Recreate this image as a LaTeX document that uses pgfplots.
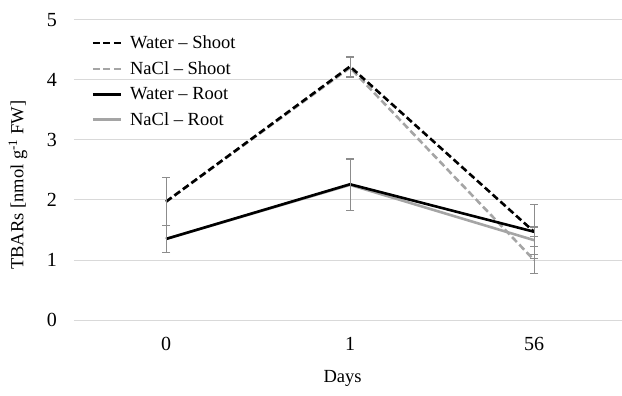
\documentclass[border=0pt]{standalone}
\usepackage{pgfplots}
\pgfplotsset{compat=1.18}
\usepackage{fontspec}
\setmainfont{Liberation Serif}
\definecolor{ngray}{RGB}{165,165,165}
\definecolor{ebar}{RGB}{140,140,140}
\definecolor{gridc}{RGB}{217,217,217}
\begin{document}
\begin{tikzpicture}
\begin{axis}[name=ax, scale only axis, width=548pt, height=300.5pt,
  xmin=-0.5, xmax=2.478, ymin=0, ymax=5,
  ytick={0,1,2,3,4,5}, xtick={0,1,2}, xticklabels={0,1,56},
  axis line style={draw=none}, major tick length=0pt,
  ymajorgrids, grid style={gridc, line width=0.9pt},
  tick label style={font=\fontsize{20}{24}\selectfont, inner sep=0pt},
  /pgf/number format/assume math mode=true,
  xticklabel shift=17pt, yticklabel shift=17pt,
  xlabel={Days}, ylabel={TBARs [nmol g\textsuperscript{-1} FW]},
  label style={font=\fontsize{18.5}{22}\selectfont},
  xlabel style={at={(axis description cs:0.49,0)}, yshift=-58pt, anchor=center},
  ylabel style={at={(axis description cs:-0.1022,0.449)}, anchor=center},
  legend style={at={(0.028,0.96)}, anchor=north west, draw=none, fill=none,
    font=\fontsize{18.5}{22}\selectfont, row sep=7.5pt, inner sep=2pt},
  legend cell align=left,
  legend image code/.code={\draw[#1] (0pt,0pt) -- (28pt,0pt); \path (34pt,0pt);},
  error bars/y dir=both, error bars/y explicit,
  error bars/error bar style={ebar, line width=0.8pt, solid},
  error bars/error mark options={rotate=90, mark size=4pt, ebar, line width=0.8pt, solid},
]
\addlegendimage{black, line width=2.6pt, dash pattern=on 7pt off 3.5pt}
\addlegendentry{Water -- Shoot}
\addlegendimage{ngray, line width=2.6pt, dash pattern=on 7pt off 3.5pt}
\addlegendentry{NaCl -- Shoot}
\addlegendimage{black, line width=2.6pt}
\addlegendentry{Water -- Root}
\addlegendimage{ngray, line width=2.6pt}
\addlegendentry{NaCl -- Root}

\addplot[forget plot, ngray, line width=2.6pt, dash pattern=on 7pt off 3.5pt] coordinates {
  (0,1.97) +- (0,0.40) (1,4.20) +- (0,0.17) (2,1.00) +- (0,0.22)};
\addplot[forget plot, black, line width=2.6pt, dash pattern=on 7pt off 3.5pt] coordinates {
  (0,1.97) +- (0,0.40) (1,4.22) +- (0,0.17) (2,1.47) +- (0,0.45)};
\addplot[forget plot, ngray, line width=2.6pt] coordinates {
  (0,1.35) +- (0,0.22) (1,2.25) +- (0,0.43) (2,1.33) +- (0,0.23)};
\addplot[forget plot, black, line width=2.6pt] coordinates {
  (0,1.35) +- (0,0.22) (1,2.26) +- (0,0.43) (2,1.47) +- (0,0.08)};
\end{axis}
\pgfresetboundingbox
\path[use as bounding box] ([shift={(-74pt,-75pt)}]ax.south west) rectangle ([shift={(0pt,19.6pt)}]ax.north east);
\end{tikzpicture}
\end{document}
